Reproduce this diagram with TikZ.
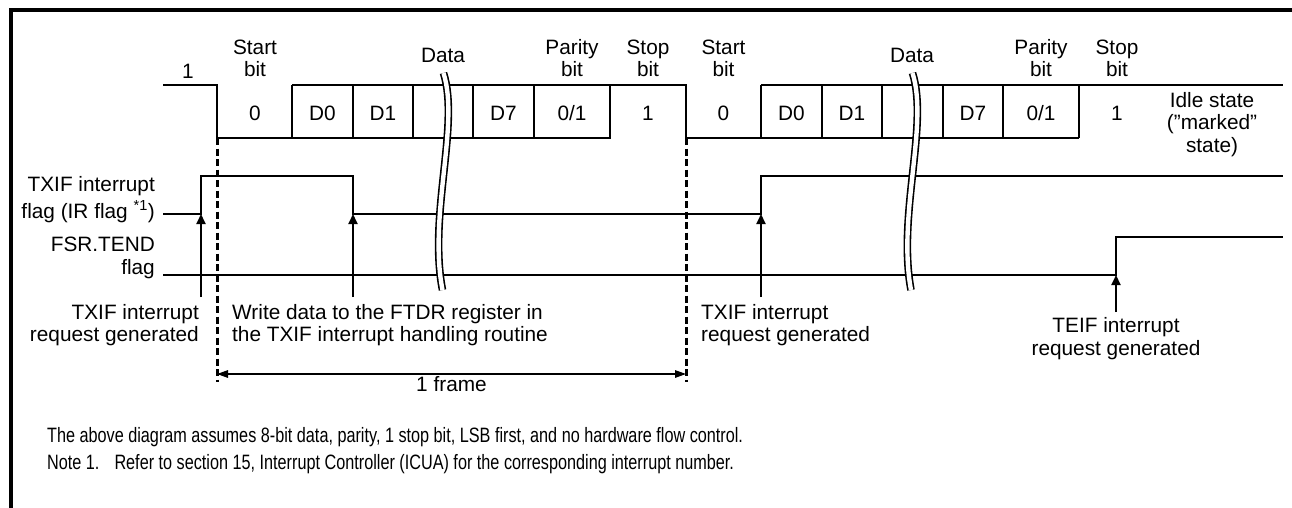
\documentclass[tikz,border=0pt]{standalone}
\usepackage{fontspec}
\setmainfont{Liberation Sans}
\newfontfamily\narrowfont{Liberation Sans}[FakeStretch=0.78]
\usetikzlibrary{arrows.meta}
\begin{document}
\begin{tikzpicture}[x=1pt,y=-1pt,
  sig/.style={line width=1.9pt, line join=miter},
  arr/.style={line width=1.9pt, -{Triangle[length=10pt,width=9pt]}},
  dim/.style={line width=1.4pt, {Triangle[length=11pt,width=7.5pt]}-{Triangle[length=11pt,width=7.5pt]}},
  guide/.style={line width=3pt, dash pattern=on 7pt off 3.5pt},
  brk/.style={line width=1.6pt, double=white, double distance=4.4pt},
  txt/.style={inner sep=0pt, font=\fontsize{20.8}{22.3}\selectfont},
  note/.style={inner sep=0pt, font=\narrowfont\fontsize{20.8}{22}\selectfont, anchor=base west}
]
\useasboundingbox (0,0) rectangle (1292,508);
% frame
\draw[line width=3.5pt] (11,508) -- (11,10) -- (1292,10);

% ---- serial data waveform
\draw[sig] (163,85) -| (217,138) -- (610,138) -- (610,85);
\draw[sig] (292,85) -- (686,85) -- (686,138) -- (1079,138);
\draw[sig] (761,85) -- (1283,85);
\foreach \x in {292,353,413,473,534,761,822,882,943,1003,1079}
  \draw[sig] (\x,85) -- (\x,138);

% ---- TXIF flag
\draw[sig] (163,214) -- (201,214) -- (201,176) -- (353,176) -- (353,214) -- (761,214) -- (761,176) -- (1283,176);
% ---- TEND flag
\draw[sig] (163,275) -- (1116,275) -- (1116,237) -- (1283,237);

% ---- breaks
\draw[brk] (443.5,73) .. controls (460,125) and (428,215) .. (442.5,290);
\draw[brk] (912.5,73) .. controls (929,125) and (897,215) .. (911,290);

% ---- dashed frame guides
\coordinate (g1t) at (217,138); \coordinate (g1b) at (217,382);
\coordinate (g2t) at (686,138); \coordinate (g2b) at (686,382);
\draw[guide] (g1t) -- (g1b);
\draw[guide] (g2t) -- (g2b);
\coordinate (f1) at (217,374); \coordinate (f2) at (686,374);
\draw[dim] (f1) -- (f2);
\node[txt, anchor=base] (frame) at (451.5,391) {1 frame};

% ---- bit labels (base = last line)
\node[txt, anchor=base] (one0) at (188,79) {1};
\node[txt, anchor=base, align=center] (st1) at (255,77) {Start\\bit};
\node[txt, anchor=base] (data1) at (443,63) {Data};
\node[txt, anchor=base, align=center] (par1) at (572,77) {Parity\\bit};
\node[txt, anchor=base, align=center] (sp1) at (648,77) {Stop\\bit};
\node[txt, anchor=base, align=center] (st2) at (723.5,77) {Start\\bit};
\node[txt, anchor=base] (data2) at (912,63) {Data};
\node[txt, anchor=base, align=center] (par2) at (1041,77) {Parity\\bit};
\node[txt, anchor=base, align=center] (sp2) at (1117,77) {Stop\\bit};

\node[txt, anchor=base] (b0) at (255,120.5) {0};
\node[txt, anchor=base] (b1) at (322.5,120.5) {D0};
\node[txt, anchor=base] (b2) at (383,120.5) {D1};
\node[txt, anchor=base] (b3) at (503.5,120.5) {D7};
\node[txt, anchor=base] (b4) at (572,120.5) {0/1};
\node[txt, anchor=base] (b5) at (648,120.5) {1};
\node[txt, anchor=base] (b6) at (723.5,120.5) {0};
\node[txt, anchor=base] (b7) at (791.5,120.5) {D0};
\node[txt, anchor=base] (b8) at (852,120.5) {D1};
\node[txt, anchor=base] (b9) at (973,120.5) {D7};
\node[txt, anchor=base] (b10) at (1041,120.5) {0/1};
\node[txt, anchor=base] (b11) at (1117,120.5) {1};
\node[txt, anchor=base, align=center] (idle) at (1212,152) {Idle state\\({\char34}marked{\char34}\\state)};

% ---- signal names
\node[txt, anchor=base east, align=right] (txifname) at (155,218.5) {TXIF interrupt\\[5pt]flag (IR flag \textsuperscript{*1})};
\node[txt, anchor=base east, align=right] (tendname) at (155,274) {FSR.TEND\\flag};

% ---- event arrows and labels
\coordinate (a1) at (201,297); \coordinate (e1) at (201,214);
\coordinate (a2) at (353,297); \coordinate (e2) at (353,214);
\coordinate (a3) at (761,297); \coordinate (e3) at (761,214);
\coordinate (a4) at (1116,312); \coordinate (e4) at (1116,275);
\draw[arr] (a1) -- (e1);
\draw[arr] (a2) -- (e2);
\draw[arr] (a3) -- (e3);
\draw[arr] (a4) -- (e4);
\node[txt, anchor=base east, align=right] (ev1) at (199,341.5) {TXIF interrupt\\request generated};
\node[txt, anchor=base west, align=left] (ev2) at (232,341.5) {Write data to the FTDR register in\\the TXIF interrupt handling routine};
\node[txt, anchor=base west, align=left] (ev3) at (701,341.5) {TXIF interrupt\\request generated};
\node[txt, anchor=base, align=center] (ev4) at (1116,355) {TEIF interrupt\\request generated};

% ---- notes
\node[note] (n1) at (47,442) {The above diagram assumes 8-bit data, parity, 1 stop bit, LSB first, and no hardware flow control.};
\node[note] (n2) at (47,469) {Note 1.\hspace{9pt} Refer to section 15, Interrupt Controller (ICUA) for the corresponding interrupt number.};
\end{tikzpicture}
\end{document}
